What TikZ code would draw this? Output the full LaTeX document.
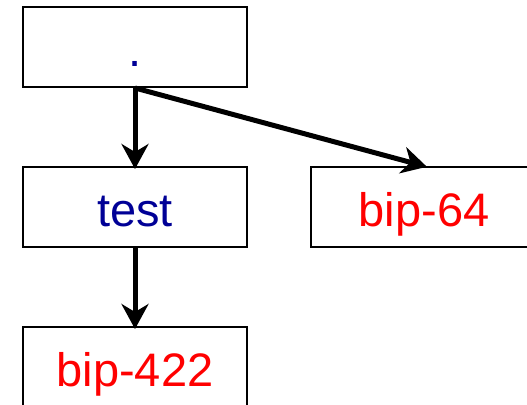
\documentclass[tikz,border=0pt]{standalone}
\usepackage{fontspec}
\setmainfont{Liberation Sans}
\usetikzlibrary{arrows.meta}
\definecolor{navy}{RGB}{0,0,150}
\definecolor{pred}{RGB}{255,0,0}
\begin{document}
\begin{tikzpicture}[x=1pt,y=1pt,
  box/.style={draw=black, line width=2pt, rectangle, minimum width=224pt, minimum height=80pt,
    inner sep=0pt, font=\fontsize{47}{47}\selectfont, text height=39.4pt, text depth=0pt},
  conn/.style={line width=5pt, -{Stealth[length=25pt, width=27pt, inset=8pt]}, shorten >=-3pt}]
\useasboundingbox (0,0) rectangle (527,-404);
\begin{scope}
\clip (0,0) rectangle (527,-404);
\node[box, text=navy] (root) at (135,-47) {.};
\node[box, text=navy] (test) at (135,-207) {test};
\node[box, text=pred, minimum width=226pt] (b64) at (424,-207) {bip-64};
\node[box, text=pred] (b422) at (135,-367) {bip-422};
\draw[conn] (root.south) -- (test.north);
\draw[conn] (root.south) -- (b64.north);
\draw[conn] (test.south) -- (b422.north);
\end{scope}
\end{tikzpicture}
\end{document}
